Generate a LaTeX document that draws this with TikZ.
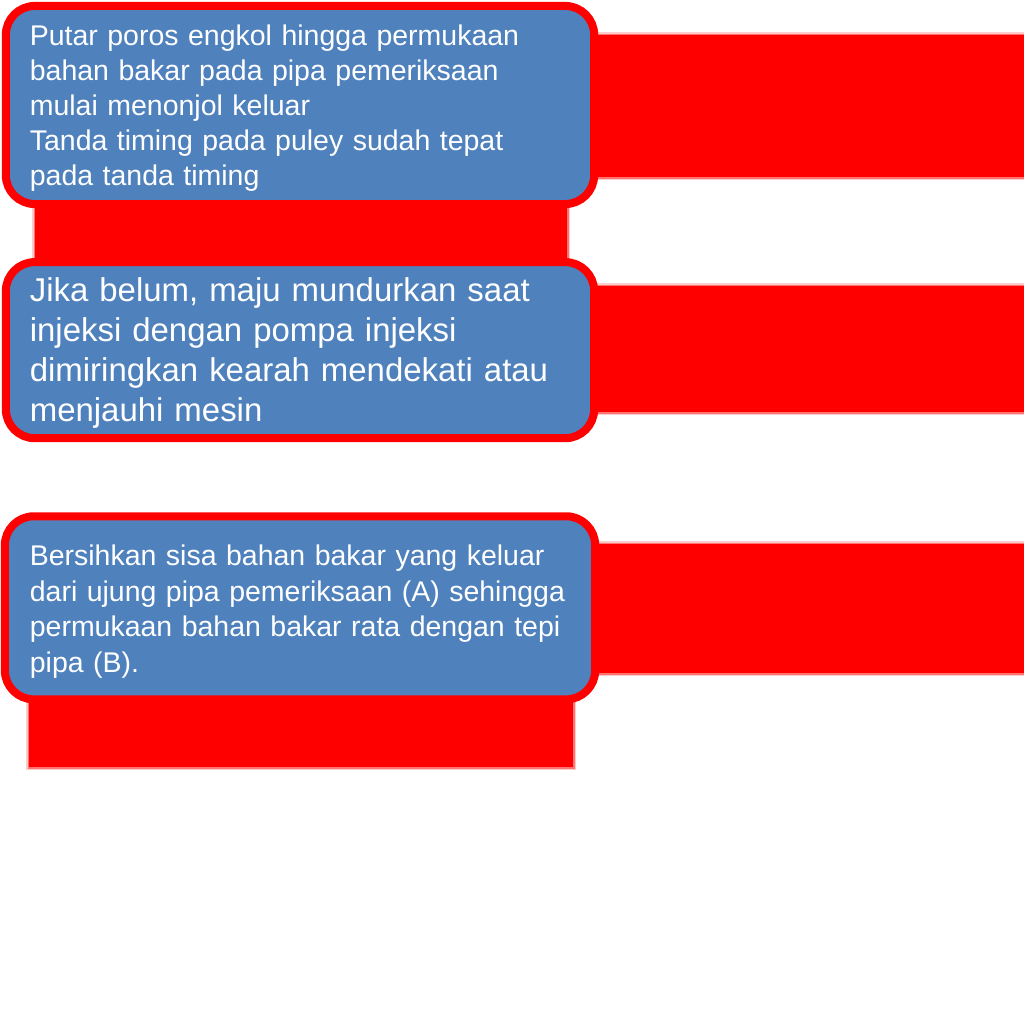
\documentclass[tikz,border=0pt]{standalone}
\usepackage{fontspec}
\setmainfont{Liberation Sans}
\usetikzlibrary{positioning}
\definecolor{boxblue}{HTML}{4F81BD}
\definecolor{bandred}{HTML}{FF0000}

\begin{document}
\begin{tikzpicture}[
    x=0.01cm, y=-0.01cm,
    stepbox/.style={rectangle, rounded corners=0.29cm, draw=bandred, line width=2.28pt, fill=boxblue, text=white, align=left, inner xsep=0.24cm, inner ysep=0pt, minimum width=5.88cm, text width=5.40cm},
    textdrop/.style={execute at begin node={\rule{0pt}{#1}}},
    smalltext/.style={font=\fontsize{8.1}{9.96}\selectfont},
    bigtext/.style={font=\fontsize{9.37}{11.38}\selectfont},
    band/.style={fill=bandred},
    fringe/.style={fill=bandred!#1}
]
    % Page
    \fill[white] (0,0) rectangle (1024,1024);
    \useasboundingbox (0,0) rectangle (1024,1024);

    % Bands behind the boxes
    \foreach \xa/\ya/\xb/\yb in {560/35/1024/177, 35/190/567/270, 560/286/1024/412, 560/544/1024/673, 29/690/573/767} {
        \fill[fringe=20] (\xa-3,\ya-3) rectangle (\xb+3,\yb+3);
        \fill[fringe=55] (\xa-1.5,\ya-1.5) rectangle (\xb+1.5,\yb+1.5);
        \fill[band] (\xa,\ya) rectangle (\xb,\yb);
    }

    % Steps
    \node[stepbox, smalltext, textdrop=0.26cm, minimum height=1.98cm] (turn) at (300,105) {Putar poros engkol hingga permukaan\\bahan bakar pada pipa pemeriksaan\\mulai menonjol keluar\\Tanda timing pada puley sudah tepat\\pada tanda timing};
    \node[stepbox, bigtext, textdrop=0.29cm, minimum height=1.76cm, below=0.5cm of turn] (adjust) {Jika belum, maju mundurkan saat\\injeksi dengan pompa injeksi\\dimiringkan kearah mendekati atau\\menjauhi mesin};
    \node[stepbox, font=\fontsize{8.1}{10.15}\selectfont, textdrop=0.28cm, minimum height=1.83cm, minimum width=5.90cm, below=0.7cm of adjust] (clean) {Bersihkan sisa bahan bakar yang keluar\\dari ujung pipa pemeriksaan (A) sehingga\\permukaan bahan bakar rata dengan tepi\\pipa (B).};

\end{tikzpicture}
\end{document}
